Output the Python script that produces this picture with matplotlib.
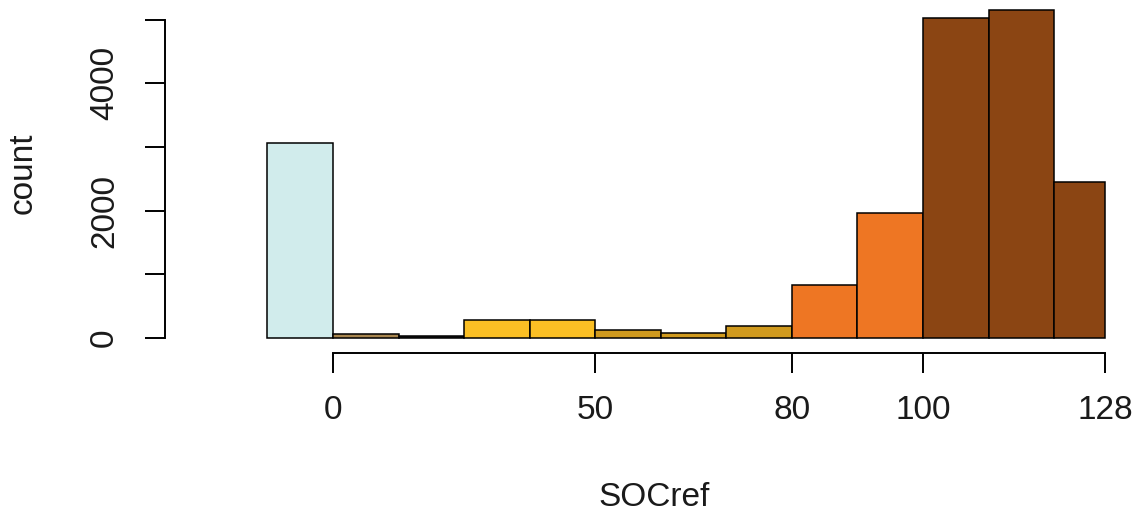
import numpy as np
from matplotlib import pyplot as plt

# bins are drawn on an index scale (one unit per bar), as in the original plot
bin_edges = [-1, 0, 1, 2, 3, 4, 5, 6, 7, 8, 9, 10, 11, 11.78]
counts = [3065, 62, 25, 290, 290, 125, 85, 192, 835, 1955, 5030, 5150, 2453]
bar_colors = ['#D1ECEC', '#A8864F', '#1A1A1A', '#FBBF24', '#FBBF24', '#D09A1E', '#D09A1E',
              '#D09A1E', '#EE7623', '#EE7623', '#8B4513', '#8B4513', '#8B4513']

xtick_pos = [0, 4, 7, 9, 11.78]
xtick_labels = ['0', '50', '80', '100', '128']
ytick_pos = [0, 1000, 2000, 3000, 4000, 5000]
ytick_labels = ['0', '', '2000', '', '4000', '']

plt.rcParams['font.family'] = ['Liberation Sans', 'DejaVu Sans']

fig = plt.figure(figsize=(11.36, 5.13), dpi=100)
ax = fig.add_axes([165 / 1136, 1 - 353 / 513, (1130 - 165) / 1136, (353 - 5) / 513])

edges = np.array(bin_edges)
ax.bar(edges[:-1], counts, width=np.diff(edges), align='edge', color=bar_colors,
       edgecolor='black', linewidth=1.1)

ax.set_xlim((165 - 333) / 65.56, (1130 - 333) / 65.56)
ax.set_ylim(-235.5, 5228)

for side in ('top', 'right'):
    ax.spines[side].set_visible(False)
ax.spines['left'].set_bounds(0, 5000)
ax.spines['bottom'].set_bounds(0, 11.78)
for side in ('left', 'bottom'):
    ax.spines[side].set_linewidth(1.4)

ax.set_xticks(xtick_pos)
ax.set_xticklabels(xtick_labels, fontsize=24, color='#1A1A1A')
ax.set_yticks(ytick_pos)
ax.set_yticklabels(ytick_labels, fontsize=24, rotation=90, va='center', color='#1A1A1A')
ax.tick_params(axis='both', length=14.4, width=1.4, color='black')
ax.tick_params(axis='x', pad=16)
ax.tick_params(axis='y', pad=18)

fig.text(654 / 1136, 1 - 497 / 513, 'SOCref', fontsize=24, ha='center', va='center',
         color='#1A1A1A')
fig.text(23 / 1136, 1 - 173 / 513, 'count', fontsize=24, rotation=90, ha='center', va='center',
         color='#1A1A1A')

plt.savefig('out.png', dpi=100)
plt.close()
